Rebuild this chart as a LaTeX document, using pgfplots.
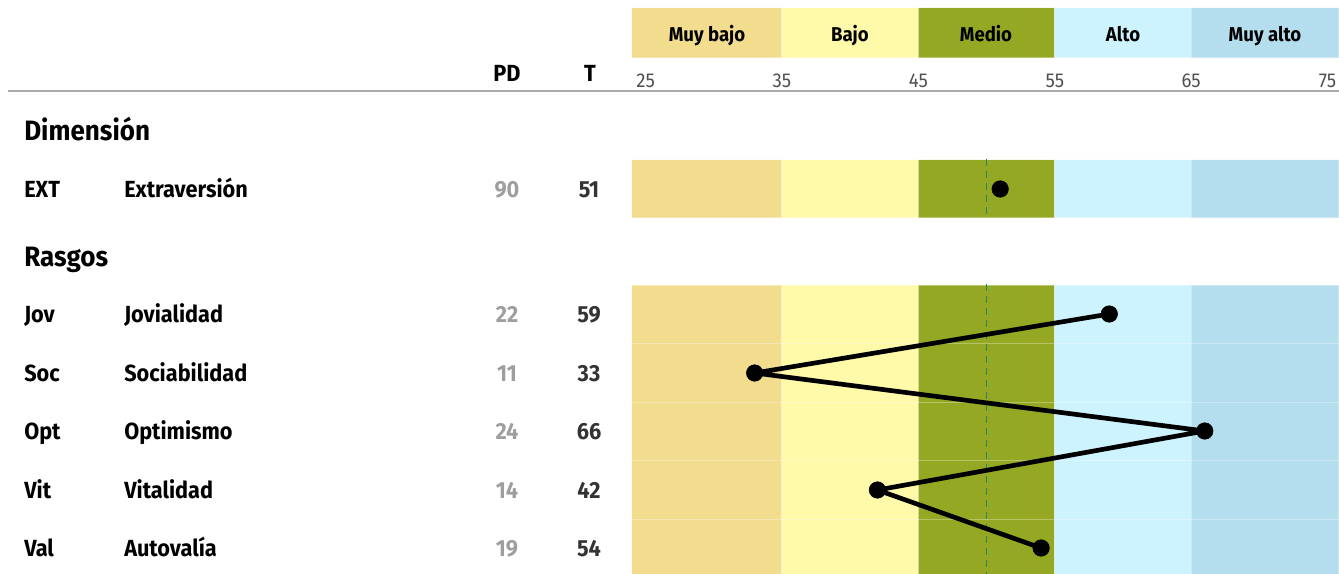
\documentclass[border=0pt]{standalone}
\usepackage{fontspec}
\setmainfont{Fira Sans}[FakeStretch=0.93]
\usepackage{pgfplots}
\pgfplotsset{compat=1.18}

\definecolor{mbajo}{HTML}{F2DC8E}
\definecolor{bajo}{HTML}{FFF9AA}
\definecolor{medio}{HTML}{95A823}
\definecolor{alto}{HTML}{CDF3FF}
\definecolor{malto}{HTML}{B4DEEE}
\definecolor{meanline}{HTML}{2A8468}
\definecolor{pdgray}{HTML}{9E9E9E}
\definecolor{tdark}{HTML}{333333}
\definecolor{ticktxt}{HTML}{505050}
\definecolor{rule}{HTML}{AAAAAA}

% one pixel of the reference = 0.75pt
\newcommand{\rowf}{\fontsize{17.5}{20}\selectfont\bfseries}
\newcommand{\headf}{\fontsize{21}{24}\selectfont\bfseries}
\newcommand{\bandf}{\fontsize{15}{17}\selectfont\bfseries}
\newcommand{\tickf}{\fontsize{15}{17}\selectfont}

\pgfplotsset{
  band/.style={fill=#1, draw=white, draw opacity=0.35, line width=0.75pt},
  dot/.style={mark=*, mark size=6.2pt, mark options={line width=0.4pt, fill=black, draw=black}},
}

\begin{document}
\begin{tikzpicture}
\begin{axis}[
  at={(0,0)}, anchor=south west,
  width=1004.25pt, height=430.5pt, scale only axis,
  xmin=-22.33, xmax=75.84, ymin=0, ymax=574, y dir=reverse,
  axis lines=none, ticks=none, clip=false,
]
% header band
\addplot[band=mbajo] coordinates {(24,8) (35,8) (35,58) (24,58) (24,8)};
\addplot[band=bajo]  coordinates {(35,8) (45,8) (45,58) (35,58) (35,8)};
\addplot[band=medio] coordinates {(45,8) (55,8) (55,58) (45,58) (45,8)};
\addplot[band=alto]  coordinates {(55,8) (65,8) (65,58) (55,58) (55,8)};
\addplot[band=malto] coordinates {(65,8) (75.84,8) (75.84,58) (65,58) (65,8)};
% dimension band
\addplot[band=mbajo] coordinates {(24,160) (35,160) (35,218) (24,218) (24,160)};
\addplot[band=bajo]  coordinates {(35,160) (45,160) (45,218) (35,218) (35,160)};
\addplot[band=medio] coordinates {(45,160) (55,160) (55,218) (45,218) (45,160)};
\addplot[band=alto]  coordinates {(55,160) (65,160) (65,218) (55,218) (55,160)};
\addplot[band=malto] coordinates {(65,160) (75.84,160) (75.84,218) (65,218) (65,160)};
% traits band
\addplot[band=mbajo] coordinates {(24,285) (35,285) (35,576) (24,576) (24,285)};
\addplot[band=bajo]  coordinates {(35,285) (45,285) (45,576) (35,576) (35,285)};
\addplot[band=medio] coordinates {(45,285) (55,285) (55,576) (45,576) (45,285)};
\addplot[band=alto]  coordinates {(55,285) (65,285) (65,576) (55,576) (55,285)};
\addplot[band=malto] coordinates {(65,285) (75.84,285) (75.84,576) (65,576) (65,285)};
% faint row separators
\addplot[white, opacity=0.3, line width=0.75pt] coordinates {(24,343.5) (75.84,343.5)};
\addplot[white, opacity=0.3, line width=0.75pt] coordinates {(24,402) (75.84,402)};
\addplot[white, opacity=0.3, line width=0.75pt] coordinates {(24,460.5) (75.84,460.5)};
\addplot[white, opacity=0.3, line width=0.75pt] coordinates {(24,519) (75.84,519)};
% mean line
\addplot[meanline, line width=1.4pt, dash pattern=on 5.5pt off 3.5pt] coordinates {(50,159) (50,219)};
\addplot[meanline, line width=1.4pt, dash pattern=on 5.5pt off 3.5pt] coordinates {(50,284) (50,576)};
% top rule
\addplot[rule, line width=0.9pt] coordinates {(-21.75,91) (75.84,91)};
% scores
\addplot[black, only marks, dot] coordinates {(51,189)};
\addplot[black, line width=3.5pt, line join=round, line cap=round, dot] coordinates {
  (59,314) (33,373) (66,431) (42,490) (54,548)};
\end{axis}

\begin{scope}[shift={(0pt,430.5pt)}, x=0.75pt, y=-0.75pt, inner sep=0pt]
  % band captions
  \foreach \cx/\lab in {707/Muy bajo, 850/Bajo, 986/Medio, 1123/Alto, 1265/Muy alto}
    \node[anchor=base, font=\bandf] at (\cx,41.7) {\lab};
  % ticks
  \foreach \v [count=\i from 0] in {25,35,45,55,65,75}
    \node[anchor=base, font=\tickf, text=ticktxt] at ({645.6+136.4*\i},87.5) {\v};
  % column headers
  \node[anchor=base, font=\rowf] at (507,81.5) {PD};
  \node[anchor=base, font=\rowf] at (590,81.5) {T};
  % section headings
  \node[anchor=base west, font=\headf] at (24,140.7) {Dimensión};
  \node[anchor=base west, font=\headf] at (24,266.5) {Rasgos};
  % rows
  \foreach \ab/\nm/\pd/\t/\y in {EXT/Extraversión/90/51/189, Jov/Jovialidad/22/59/314,
      Soc/Sociabilidad/11/33/373, Opt/Optimismo/24/66/431,
      Vit/Vitalidad/14/42/490, Val/Autovalía/19/54/548} {
    \node[anchor=base west, font=\rowf] at (24,\y+8.3) {\ab};
    \node[anchor=base west, font=\rowf] at (124,\y+8.3) {\nm};
    \node[anchor=base, font=\rowf, text=pdgray] at (507,\y+8.3) {\pd};
    \node[anchor=base, font=\rowf, text=tdark] at (589,\y+8.3) {\t};
  }
\end{scope}
\pgfresetboundingbox
\path (0,0) rectangle (1004.25pt,430.5pt);
\end{tikzpicture}
\end{document}
